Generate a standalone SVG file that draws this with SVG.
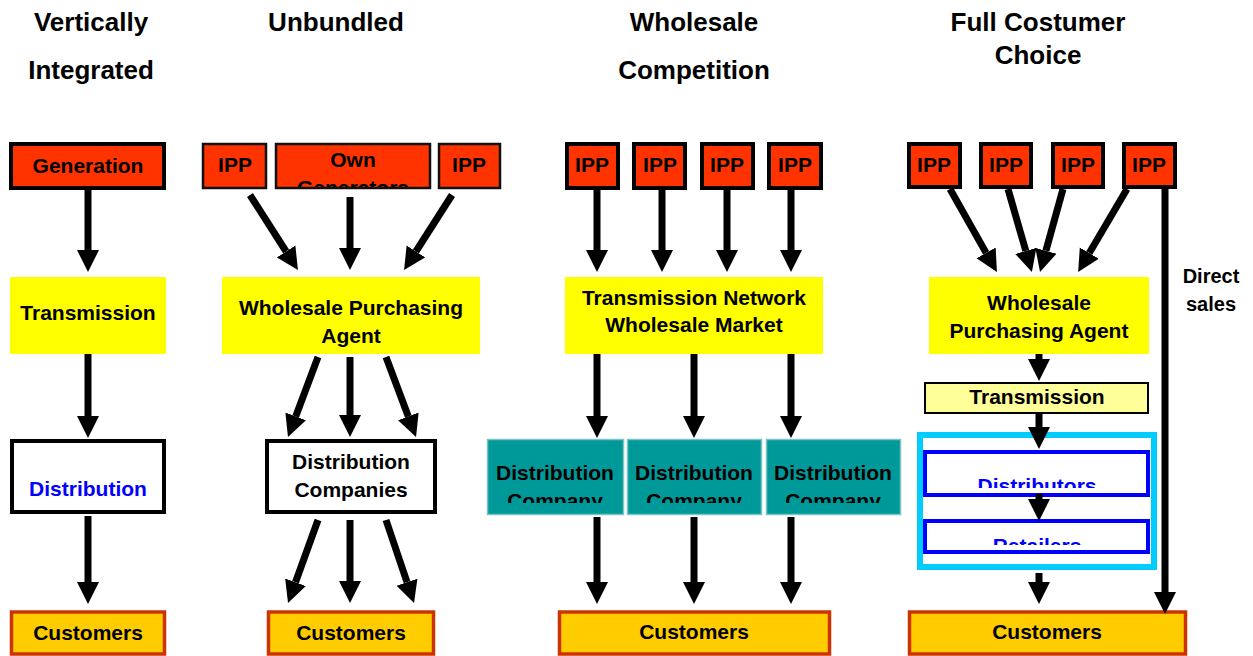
<svg xmlns="http://www.w3.org/2000/svg" width="1253" height="656" viewBox="0 0 1253 656">
<style>
text{font-family:"Liberation Sans",Arial,sans-serif;font-weight:bold;text-anchor:middle;fill:#000}
.title{font-size:26px}
.lbl{font-size:21px}
.blue{fill:#0000FF}
.gen{fill:#FF3300;stroke:#000;stroke-width:4}
.gen2{fill:#FF3300;stroke:#111;stroke-width:2.5}
.yel{fill:#FFFF00}
.white{fill:#fff;stroke:#000;stroke-width:4}
.teal{fill:#009999;stroke:#7CC4C4;stroke-width:1.5}
.cust{fill:#FFCC00;stroke:#CC3300;stroke-width:3.5}
.conn line{stroke:#000;stroke-width:7;marker-end:url(#ah)}
</style>
<defs>
<marker id="ah" markerUnits="userSpaceOnUse" markerWidth="23" markerHeight="23" refX="0" refY="11" orient="auto" viewBox="0 0 23 22">
<path d="M0,0 L22,11 L0,22 z" fill="#000"/>
</marker>
<clipPath id="cOwn"><rect x="276" y="144" width="154" height="43"/></clipPath>
<clipPath id="cDC1"><rect x="487" y="440" width="137" height="63"/></clipPath>
<clipPath id="cDC2"><rect x="627" y="440" width="135" height="63"/></clipPath>
<clipPath id="cDC3"><rect x="766" y="440" width="135" height="63"/></clipPath>
<clipPath id="cDist"><rect x="927" y="454" width="219" height="34"/></clipPath>
<clipPath id="cRet"><rect x="927" y="523" width="219" height="22"/></clipPath>
</defs>
<rect width="1253" height="656" fill="#fff"/>

<g id="titles">
<text class="title" x="91" y="31">Vertically</text>
<text class="title" x="91" y="79">Integrated</text>
<text class="title" x="336" y="31">Unbundled</text>
<text class="title" x="694" y="31">Wholesale</text>
<text class="title" x="694" y="79">Competition</text>
<text class="title" x="1038" y="31">Full Costumer</text>
<text class="title" x="1038" y="64">Choice</text>
</g>

<g id="connectors" class="conn">
<!-- column 1 -->
<line x1="88" y1="190" x2="88" y2="250"/>
<line x1="88" y1="354" x2="88" y2="416"/>
<line x1="88" y1="516" x2="88" y2="582"/>
<!-- column 2 -->
<line x1="250" y1="195" x2="286.1" y2="251.5"/>
<line x1="350" y1="197" x2="350" y2="248"/>
<line x1="452" y1="195" x2="415.9" y2="251.5"/>
<line x1="318" y1="357" x2="295.7" y2="416.4"/>
<line x1="350" y1="357" x2="350" y2="415"/>
<line x1="386" y1="357" x2="408.3" y2="416.4"/>
<line x1="318" y1="520" x2="295.5" y2="582.3"/>
<line x1="350" y1="520" x2="350" y2="581"/>
<line x1="386" y1="520" x2="407.0" y2="582.2"/>
<!-- column 3 -->
<line x1="597" y1="190" x2="597" y2="250"/>
<line x1="662" y1="190" x2="662" y2="250"/>
<line x1="727" y1="190" x2="727" y2="250"/>
<line x1="791" y1="190" x2="791" y2="250"/>
<line x1="597" y1="354" x2="597" y2="416"/>
<line x1="694" y1="354" x2="694" y2="416"/>
<line x1="791" y1="354" x2="791" y2="416"/>
<line x1="597" y1="517" x2="597" y2="582"/>
<line x1="694" y1="517" x2="694" y2="582"/>
<line x1="791" y1="517" x2="791" y2="582"/>
<!-- column 4 -->
<line x1="950" y1="189" x2="986.1" y2="252.9"/>
<line x1="1008" y1="189" x2="1025.8" y2="250.9"/>
<line x1="1063" y1="189" x2="1045.9" y2="250.8"/>
<line x1="1127" y1="189" x2="1089.3" y2="253.1"/>
<line x1="1039" y1="354" x2="1039" y2="359"/>
<line x1="1039" y1="573" x2="1039" y2="582"/>
</g>

<!-- column 1 nodes -->
<g id="generation"><rect class="gen" x="11" y="144" width="153" height="44"/><text class="lbl" x="88" y="173">Generation</text></g>
<g id="transmission1"><rect class="yel" x="10" y="277" width="156" height="77"/><text class="lbl" x="88" y="320">Transmission</text></g>
<g id="distribution1"><rect class="white" x="12" y="441" width="152" height="71"/><text class="lbl blue" x="88" y="496">Distribution</text></g>
<g id="customers1"><rect class="cust" x="11.5" y="612" width="153" height="42"/><text class="lbl" x="88" y="640">Customers</text></g>

<!-- column 2 nodes -->
<g id="ipp2a"><rect class="gen2" x="203" y="144" width="63" height="44"/><text class="lbl" x="235" y="172">IPP</text></g>
<g id="owngen"><rect class="gen2" x="276" y="144" width="154" height="44"/><g clip-path="url(#cOwn)"><text class="lbl" x="353" y="167">Own</text><text class="lbl" x="353" y="195">Generators</text></g></g>
<g id="ipp2b"><rect class="gen2" x="439" y="144" width="61" height="44"/><text class="lbl" x="469" y="172">IPP</text></g>
<g id="wpa2"><rect class="yel" x="222" y="277" width="258" height="77"/><text class="lbl" x="351" y="315">Wholesale Purchasing</text><text class="lbl" x="351" y="343">Agent</text></g>
<g id="distco2"><rect class="white" x="267" y="441" width="168" height="71"/><text class="lbl" x="351" y="469">Distribution</text><text class="lbl" x="351" y="497">Companies</text></g>
<g id="customers2"><rect class="cust" x="268.5" y="612" width="165" height="42"/><text class="lbl" x="351" y="640">Customers</text></g>

<!-- column 3 nodes -->
<g id="ipp3a"><rect class="gen" x="567" y="144" width="51" height="44"/><text class="lbl" x="592" y="172">IPP</text></g>
<g id="ipp3b"><rect class="gen" x="634" y="144" width="51" height="44"/><text class="lbl" x="660" y="172">IPP</text></g>
<g id="ipp3c"><rect class="gen" x="702" y="144" width="51" height="44"/><text class="lbl" x="727" y="172">IPP</text></g>
<g id="ipp3d"><rect class="gen" x="769" y="144" width="52" height="44"/><text class="lbl" x="795" y="172">IPP</text></g>
<g id="tnwm"><rect class="yel" x="565" y="277" width="258" height="77"/><text class="lbl" x="694" y="305">Transmission Network</text><text class="lbl" x="694" y="332">Wholesale Market</text></g>
<g id="distco3a"><rect class="teal" x="487.5" y="439.5" width="136" height="75"/><g clip-path="url(#cDC1)"><text class="lbl" x="555" y="480">Distribution</text><text class="lbl" x="555" y="508">Company</text></g></g>
<g id="distco3b"><rect class="teal" x="627.5" y="439.5" width="134" height="75"/><g clip-path="url(#cDC2)"><text class="lbl" x="694" y="480">Distribution</text><text class="lbl" x="694" y="508">Company</text></g></g>
<g id="distco3c"><rect class="teal" x="766.5" y="439.5" width="134" height="75"/><g clip-path="url(#cDC3)"><text class="lbl" x="833" y="480">Distribution</text><text class="lbl" x="833" y="508">Company</text></g></g>
<g id="customers3"><rect class="cust" x="559.5" y="612" width="270" height="42"/><text class="lbl" x="694" y="639">Customers</text></g>

<!-- column 4 nodes -->
<g id="ipp4a"><rect class="gen" x="909" y="144" width="51" height="43"/><text class="lbl" x="934" y="172">IPP</text></g>
<g id="ipp4b"><rect class="gen" x="981" y="144" width="50" height="43"/><text class="lbl" x="1006" y="172">IPP</text></g>
<g id="ipp4c"><rect class="gen" x="1053" y="144" width="50" height="43"/><text class="lbl" x="1078" y="172">IPP</text></g>
<g id="ipp4d"><rect class="gen" x="1124" y="144" width="51" height="43"/><text class="lbl" x="1149" y="172">IPP</text></g>
<g id="wpa4"><rect class="yel" x="929" y="277" width="220" height="77"/><text class="lbl" x="1039" y="310">Wholesale</text><text class="lbl" x="1039" y="338">Purchasing Agent</text></g>
<g id="transmission4"><rect x="925" y="383" width="223" height="30" fill="#FFFF99" stroke="#000" stroke-width="2"/><text class="lbl" x="1037" y="404">Transmission</text></g>
<g id="retailgroup"><rect x="920" y="435" width="234" height="132" fill="#fff" stroke="#00CCFF" stroke-width="6"/></g>
<g id="distributors"><rect x="925" y="452" width="223" height="43" fill="#fff" stroke="#0000FF" stroke-width="4"/><g clip-path="url(#cDist)"><text class="lbl blue" x="1037" y="493">Distributors</text></g></g>
<g id="retailers"><rect x="925" y="521" width="223" height="31" fill="#fff" stroke="#0000FF" stroke-width="4"/><g clip-path="url(#cRet)"><text class="lbl blue" x="1037" y="553">Retailers</text></g></g>
<g id="customers4"><rect class="cust" x="909.5" y="612" width="276" height="42"/><text class="lbl" x="1047" y="639">Customers</text></g>

<g id="connectors-over" class="conn">
<line x1="1039" y1="413" x2="1039" y2="427"/>
<line x1="1039" y1="494" x2="1039" y2="499"/>
<line x1="1165" y1="185" x2="1165" y2="592"/>
</g>
<g id="direct-label">
<text x="1211" y="283" style="font-size:20px">Direct</text>
<text x="1211" y="311" style="font-size:20px">sales</text>
</g>
</svg>
